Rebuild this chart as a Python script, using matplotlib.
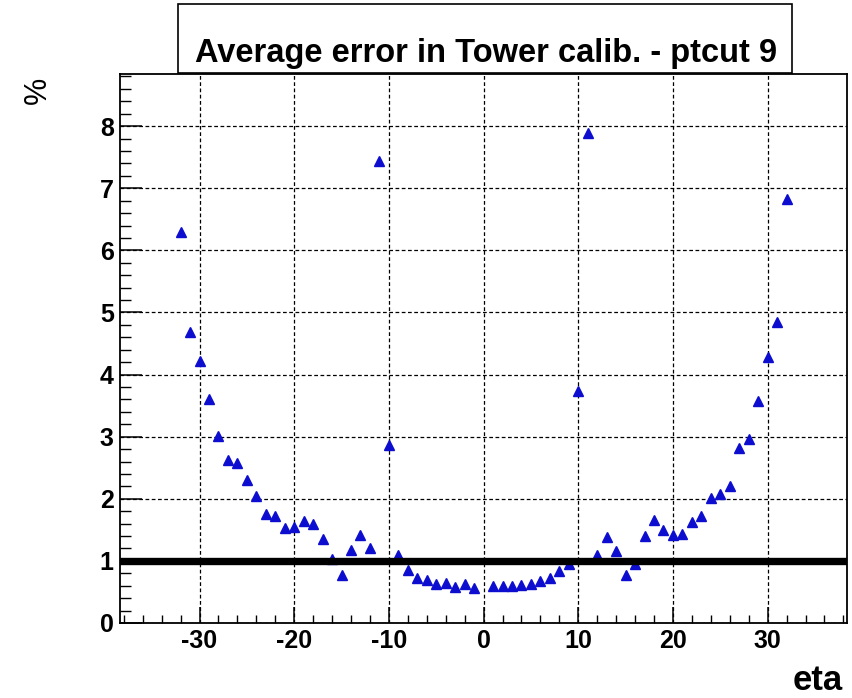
import matplotlib
matplotlib.use("Agg")
import matplotlib.pyplot as plt
from matplotlib.ticker import MultipleLocator
from matplotlib.patches import Rectangle
from matplotlib import font_manager

# eta bin vs average calibration error (%)
eta = list(range(-32, 0)) + list(range(1, 33))
err = [6.29, 4.69, 4.22, 3.61, 3.01, 2.62, 2.58, 2.31, 2.05, 1.75,
       1.72, 1.53, 1.54, 1.64, 1.60, 1.35, 1.03, 0.78, 1.18, 1.41,
       1.20, 7.44, 2.86, 1.10, 0.85, 0.73, 0.69, 0.63, 0.65, 0.58,
       0.62, 0.57,
       0.60, 0.60, 0.60, 0.61, 0.63, 0.67, 0.72, 0.83, 0.95, 3.74,
       7.89, 1.10, 1.39, 1.16, 0.77, 0.95, 1.40, 1.66, 1.49, 1.41,
       1.44, 1.63, 1.73, 2.01, 2.07, 2.20, 2.81, 2.97, 3.58, 4.29,
       4.85, 6.82]
x_ticks = [-30, -20, -10, 0, 10, 20, 30]
y_ticks = [0, 1, 2, 3, 4, 5, 6, 7, 8]
ref_level = 1.0
title = "Average error in Tower calib. - ptcut 9"

plt.rcParams['font.family'] = ['Liberation Sans', 'DejaVu Sans']
plt.rcParams['axes.unicode_minus'] = False

names = {f.name for f in font_manager.fontManager.ttflist}
narrow = "Liberation Sans Narrow" in names
title_font = ["Liberation Sans Narrow", "Liberation Sans"] if narrow else ["Liberation Sans"]
title_size = 28.5 if narrow else 23.5

W, H = 852, 698
fig = plt.figure(figsize=(W / 100, H / 100), dpi=100)
ax = fig.add_axes([120 / W, 1 - 623 / H, 726.7 / W, 549 / H])

ax.plot(eta, err, linestyle='none', marker='^', markersize=6.8,
        color='#0d0dd0', zorder=2)
ax.axhline(ref_level, color='black', linewidth=5.3, zorder=3)

ax.set_xlim(-38.4, 38.35)
ax.set_ylim(0, 8.84)
ax.set_xticks(x_ticks)
ax.set_yticks(y_ticks)
ax.xaxis.set_minor_locator(MultipleLocator(2))
ax.yaxis.set_minor_locator(MultipleLocator(0.2))
ax.grid(True, which='major', color='black', linestyle=(0, (3, 2)), linewidth=0.9)

ax.tick_params(axis='x', which='major', direction='in', length=11.5, width=1.1,
               pad=4, labelsize=18, top=False)
ax.tick_params(axis='x', which='minor', direction='in', length=5.8, width=1.0, top=False)
ax.tick_params(axis='y', which='major', direction='in', length=15.8, width=1.1,
               pad=4.5, labelsize=18, right=False)
ax.tick_params(axis='y', which='minor', direction='in', length=8, width=1.0, right=False)
for lab in ax.get_xticklabels() + ax.get_yticklabels():
    lab.set_fontweight('bold')
for sp in ax.spines.values():
    sp.set_linewidth(1.3)

# title box
fig.add_artist(Rectangle((178 / W, 1 - 73 / H), 614 / W, 69 / H, transform=fig.transFigure,
                         facecolor='white', edgecolor='black', linewidth=1.2))
fig.text(486 / W, 1 - 62 / H, title, ha='center', va='baseline',
         fontsize=title_size, fontweight='bold', family=title_font)

fig.text(843 / W, 1 - 690 / H, 'eta', ha='right', va='baseline', fontsize=25, fontweight='bold')
fig.text(38 / W, 1 - 90 / H, '%', rotation=90, ha='center', va='center', fontsize=22)

fig.savefig('out.png', dpi=100, facecolor='white')
